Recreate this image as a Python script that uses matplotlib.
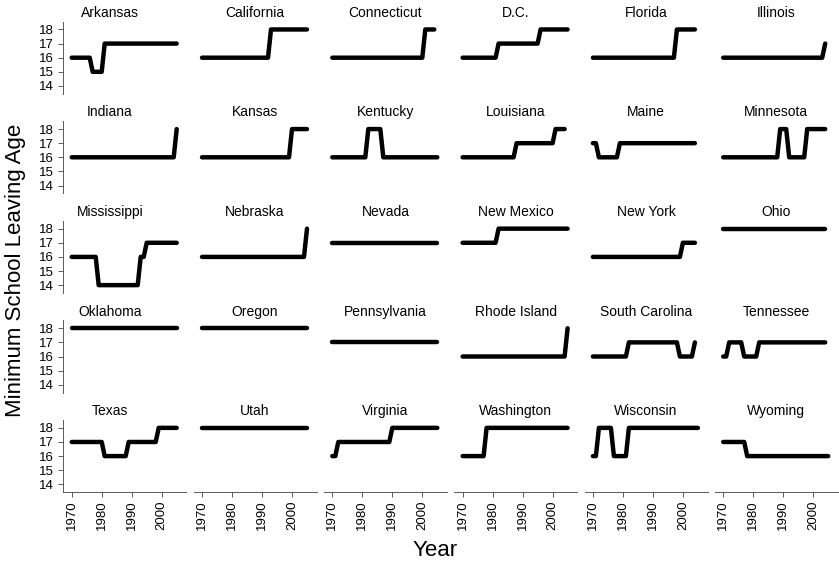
import numpy as np
import matplotlib
matplotlib.use("Agg")
import matplotlib.pyplot as plt

plt.rcParams["font.family"] = ["Liberation Sans", "DejaVu Sans"]

# minimum school leaving age by state: years where the law changed and the new age
states = ["Arkansas", "California", "Connecticut", "D.C.", "Florida", "Illinois",
          "Indiana", "Kansas", "Kentucky", "Louisiana", "Maine", "Minnesota",
          "Mississippi", "Nebraska", "Nevada", "New Mexico", "New York", "Ohio",
          "Oklahoma", "Oregon", "Pennsylvania", "Rhode Island", "South Carolina", "Tennessee",
          "Texas", "Utah", "Virginia", "Washington", "Wisconsin", "Wyoming"]
change_years = [
    [1970, 1977, 1981], [1970, 1993], [1970, 2001], [1970, 1982, 1996], [1970, 1998], [1970, 2004],
    [1970, 2005], [1970, 2000], [1970, 1982, 1987], [1970, 1988, 2001], [1970, 1972, 1979],
    [1970, 1989, 1992, 1998],
    [1970, 1979, 1993, 1995], [1970, 2005], [1970], [1970, 1982], [1970, 2000], [1970],
    [1970], [1970], [1970], [1970, 2005], [1970, 1982, 1999, 2004], [1970, 1972, 1977, 1982],
    [1970, 1981, 1989, 1999], [1970], [1970, 1972, 1990], [1970, 1978], [1970, 1972, 1977, 1982],
    [1970, 1978],
]
ages = [
    [16, 15, 17], [16, 18], [16, 18], [16, 17, 18], [16, 18], [16, 17],
    [16, 18], [16, 18], [16, 18, 16], [16, 17, 18], [17, 16, 17], [16, 18, 16, 18],
    [16, 14, 16, 17], [16, 18], [17], [17, 18], [16, 17], [18],
    [18], [18], [17], [16, 18], [16, 17, 16, 17], [16, 17, 16, 17],
    [17, 16, 17, 18], [18], [16, 17, 18], [16, 18], [16, 18, 16, 18], [17, 16],
]
last_year = [
    2005, 2005, 2004, 2005, 2004, 2004,
    2005, 2005, 2005, 2004, 2004, 2004,
    2005, 2005, 2005, 2005, 2004, 2004,
    2005, 2005, 2005, 2005, 2004, 2004,
    2005, 2005, 2005, 2005, 2005, 2005,
]
year_ticks = [1970, 1980, 1990, 2000]
age_ticks = [14, 15, 16, 17, 18]

W, H = 839, 566
fig = plt.figure(figsize=(W / 100, H / 100), dpi=100)

ncol = 6
axis_grey = "#5a5a5a"
for i, name in enumerate(states):
    r, c = divmod(i, ncol)
    left, top = 63.3 + 130.3 * c, 21.7 + 99.6 * r
    ax = fig.add_axes([left / W, 1 - (top + 72) / H, 123 / W, 72 / H])

    years = np.arange(1970, last_year[i] + 1)
    idx = np.searchsorted(change_years[i], years, side="right") - 1
    vals = np.array(ages[i])[idx]
    ax.plot(years, vals, color="black", lw=3.2,
            solid_capstyle="round", solid_joinstyle="round")

    ax.set_xlim(1967.2, 2008.2)
    ax.set_ylim(13.45, 18.55)
    # first-column strip labels sit a little left of the panel centre
    ax.set_title(name, fontsize=10, pad=3.5, x=0.38 if c == 0 else 0.5)
    for s in ax.spines.values():
        s.set_visible(False)
    ax.tick_params(colors=axis_grey, labelcolor="black", width=0.7, length=3.5)

    if c == 0:
        ax.spines["left"].set_visible(True)
        ax.spines["left"].set_color(axis_grey)
        ax.spines["left"].set_linewidth(0.7)
        ax.set_yticks(age_ticks)
        ax.tick_params(axis="y", labelsize=9.5, pad=3.5)
    else:
        ax.set_yticks([])
    if r == 4:
        ax.spines["bottom"].set_visible(True)
        ax.spines["bottom"].set_color(axis_grey)
        ax.spines["bottom"].set_linewidth(0.7)
        ax.set_xticks(year_ticks)
        ax.set_xticklabels([str(y) for y in year_ticks], rotation=90)
        ax.tick_params(axis="x", labelsize=9.5, pad=2.5)
    else:
        ax.set_xticks([])

fig.text(435 / W, 1 - 551 / H, "Year", fontsize=16, ha="center", va="center")
fig.text(16 / W, 1 - 270 / H, "Minimum School Leaving Age", fontsize=16,
         rotation=90, ha="center", va="center")

fig.savefig("out.png", dpi=100)
